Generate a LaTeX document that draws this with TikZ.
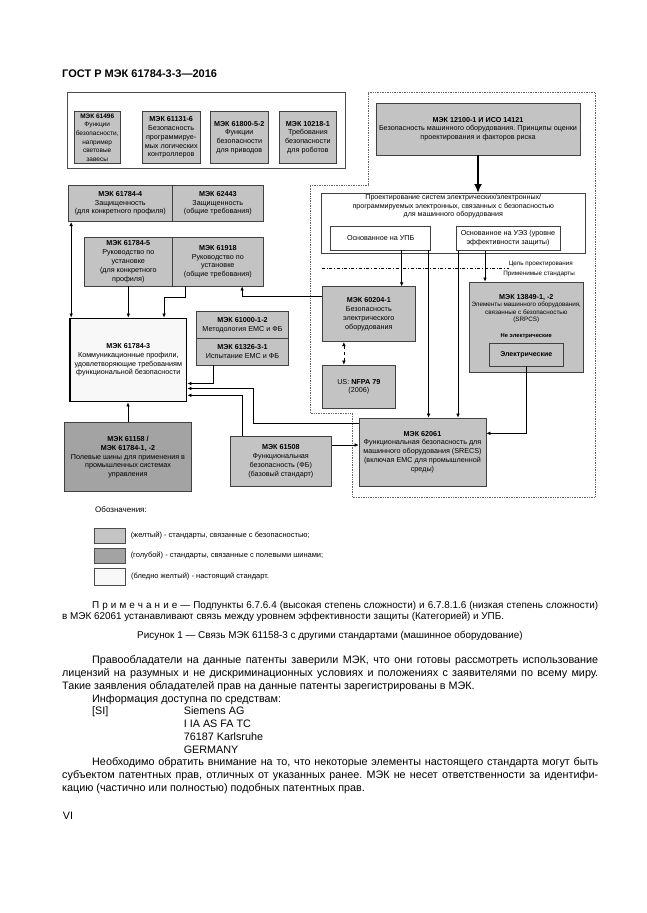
\documentclass[tikz,border=0pt]{standalone}
\usepackage{fontspec}
\setmainfont{Liberation Sans}
\usetikzlibrary{arrows.meta}
\frenchspacing

\definecolor{stdgray}{HTML}{C3C3C3}
\definecolor{busgray}{HTML}{A3A3A3}
\definecolor{palebox}{HTML}{F8F8F8}

\tikzset{
  box/.style={draw=black!75, line width=0.8pt, fill=stdgray, align=center, inner sep=0.5pt,
    font=\fontsize{7.2}{8.8}\selectfont},
  busbox/.style={box, fill=busgray},
  plainbox/.style={box, fill=white, line width=0.6pt},
  arr/.style={-{Latex[length=4pt,width=3.6pt]}, line width=0.6pt},
  bigarr/.style={-{Latex[length=9pt,width=8pt]}, line width=2.4pt},
  mach/.style={densely dotted, black!60, line width=0.7pt},
  small/.style={inner sep=0pt, align=center, font=\fontsize{6.3}{7.4}\selectfont},
  legtxt/.style={inner sep=0pt, anchor=west, font=\fontsize{7.5}{8.5}\selectfont},
}

\begin{document}
\begin{tikzpicture}[x=1pt,y=-1pt]
  \useasboundingbox[fill=white] (0,0) rectangle (646,913);

  \node[anchor=base west, inner sep=0pt, font=\bfseries\fontsize{11}{13}\selectfont] (head) at (62,77) {ГОСТ Р МЭК 61784-3-3—2016};

  % machinery area
  \draw[mach] (368,92) -- (595,92) -- (595,497) -- (352,497) -- (352,413) -- (310,413) -- (310,185) -- (368,185) -- cycle;

  % safety functions group
  \node[draw=black!70, line width=0.8pt, minimum width=278pt, minimum height=76pt] (grp) at (206,130) {};
  \node[box, minimum width=45.7pt, minimum height=51.6pt, font=\fontsize{6.5}{8.6}\selectfont] (b61496) at (97.2,137.5) {\textbf{МЭК 61496}\\Функции\\безопасности,\\например\\световые\\завесы};
  \node[box, minimum width=57.7pt, minimum height=51.6pt] (b61131) at (171.2,137.5) {\textbf{МЭК 61131-6}\\Безопасность\\программируе-\\мых логических\\контроллеров};
  \node[box, minimum width=58pt, minimum height=51.6pt] (b61800) at (239.3,137.5) {\textbf{МЭК 61800-5-2}\\Функции\\безопасности\\для приводов};
  \node[box, minimum width=57.7pt, minimum height=51.6pt] (b10218) at (307.9,137.5) {\textbf{МЭК 10218-1}\\Требования\\безопасности\\для роботов};

  % machinery
  \node[box, minimum width=204pt, minimum height=51.7pt] (b12100) at (478,129.2) {\textbf{МЭК 12100-1 И ИСО 14121}\\Безопасность машинного оборудования. Принципы оценки\\проектирования и факторов риска};
  \node[plainbox, minimum width=263.3pt, minimum height=60pt] (design) at (453.3,223.3) {};
  \node[inner sep=0pt, align=center, font=\fontsize{7.1}{8.6}\selectfont] (designtxt) at (453.3,206.5) {Проектирование систем электрических/электронных/\\программируемых электронных, связанных с безопасностью\\для машинного оборудования};
  \node[plainbox, minimum width=100pt, minimum height=24pt] (upb) at (380.7,238) {Основанное на УПБ};
  \node[plainbox, minimum width=104pt, minimum height=24.7pt] (uez) at (508,238.3) {Основанное на УЭЗ (уровне\\эффективности защиты)};
  \node[small, anchor=east, font=\fontsize{6.3}{7.4}\selectfont] (lblgoal) at (573,264.3) {Цель проектирования};
  \node[small, anchor=east, font=\fontsize{6.3}{7.4}\selectfont] (lblstd) at (575,273.5) {Применимые стандарты};
  \coordinate (sepl) at (321.7,268.5);
  \draw[dash dot, line width=0.9pt] (sepl) -- (sepl -| lblgoal.west);

  \node[box, minimum width=92.3pt, minimum height=55pt] (b60204) at (368.8,314.2) {\textbf{МЭК 60204-1}\\Безопасность\\электрического\\оборудования};
  \node[box, minimum width=72.3pt, minimum height=43.3pt] (nfpa) at (358.8,386.7) {US: \textbf{NFPA 79}\\(2006)};
  \node[box, minimum width=114pt, minimum height=90.7pt] (b13849) at (526.3,327.3) {};
  \node[small] (b13849txt) at (526.3,308.5) {{\bfseries\fontsize{7.2}{8.8}\selectfont МЭК 13849-1, -2}\\Элементы машинного оборудования,\\связанные с безопасностью\\(SRPCS)};
  \node[small, font=\bfseries\fontsize{5.8}{7}\selectfont] (nonel) at (526.3,336) {Не электрические};
  \node[box, minimum width=74pt, minimum height=22.7pt, font=\bfseries\fontsize{7}{8.6}\selectfont] (elec) at (526.3,354.7) {Электрические};
  \node[box, minimum width=127pt, minimum height=68pt] (b62061) at (422.5,452) {\textbf{МЭК 62061}\\Функциональная безопасность для\\машинного оборудования (SRECS)\\(включая EMC для промышленной\\среды)};

  % communication profiles
  \node[box, minimum width=104pt, minimum height=36.7pt] (b617844) at (120.3,203.3) {\textbf{МЭК 61784-4}\\Защищенность\\(для конкретного профиля)};
  \node[box, minimum width=91pt, minimum height=36.7pt] (b62443) at (217.8,203.3) {\textbf{МЭК 62443}\\Защищенность\\(общие требования)};
  \node[box, minimum width=88pt, minimum height=48.7pt] (b617845) at (128.3,261.7) {\textbf{МЭК 61784-5}\\Руководство по\\установке\\(для конкретного\\профиля)};
  \node[box, minimum width=91pt, minimum height=48.7pt] (b61918) at (217.8,261.7) {\textbf{МЭК 61918}\\Руководство по\\установке\\(общие требования)};
  \node[box, fill=palebox, draw=black, line width=1.6pt, minimum width=116.7pt, minimum height=83.3pt] (main) at (128.3,360) {\textbf{МЭК 61784-3}\\Коммуникационные профили,\\удовлетворяющие требованиям\\функциональной безопасности};
  \node[box, minimum width=91.7pt, minimum height=26.7pt] (b61000) at (242.5,325) {\textbf{МЭК 61000-1-2}\\Методология ЕМС и ФБ};
  \node[box, minimum width=91.7pt, minimum height=26.7pt] (b61326) at (242.5,351.7) {\textbf{МЭК 61326-3-1}\\Испытание ЕМС и ФБ};
  \node[busbox, minimum width=127.3pt, minimum height=69pt] (b61158) at (128,457.2) {\textbf{МЭК 61158 /}\\\textbf{МЭК 61784-1, -2}\\Полевые шины для применения в\\промышленных системах\\управления};
  \node[box, minimum width=101.7pt, minimum height=49.3pt] (b61508) at (280.8,461.3) {\textbf{МЭК 61508}\\Функциональная\\безопасность (ФБ)\\(базовый стандарт)};

  % connectors
  \draw[bigarr] (b12100.south) -- (b12100.south |- design.north);
  \draw[arr] ([xshift=21pt]upb.south) -- ([xshift=21pt]upb.south |- b60204.north);
  \draw[arr] ([xshift=-2.4pt]upb.south east) -- ([xshift=-2.4pt]upb.south east |- b62061.north);
  \draw[arr] ([xshift=2.3pt]uez.south west) -- ([xshift=2.3pt]uez.south west |- b62061.north);
  \draw[arr] ([xshift=-23pt]uez.south) -- ([xshift=-23pt]uez.south |- b13849.north);
  \draw[arr] (elec.south) |- ([yshift=18.7pt]b62061.east);
  \draw[arr, {Latex[length=4pt,width=3.6pt]}-{Latex[length=4pt,width=3.6pt]}, dashed] ([xshift=21.6pt]b60204.south west) -- ([xshift=21.6pt]b60204.south west |- nfpa.north);
  \draw[arr] ([yshift=17.7pt]b60204.west) -| ([xshift=70.2pt]b61918.south west);
  \draw[arr, {Latex[length=4pt,width=3.6pt]}-{Latex[length=4pt,width=3.6pt]}] ([xshift=2pt]main.north west) -- ([xshift=2pt]main.north west |- b617844.south);
  \draw[arr] (b617845.south) -- (b617845.south |- main.north);
  \draw[arr] ([xshift=13.4pt]b61918.south west) -- ++(0,10.7) -| ([xshift=-23.4pt]main.north east);
  \draw[arr] ([xshift=16.6pt]b61326.south west) |- ([yshift=-23.5pt]main.east);
  \draw[arr] ([yshift=28.7pt]b62061.west) -- ++(-105,0) |- ([yshift=-28.5pt]main.east);
  \draw[arr] ([xshift=13pt]b61508.north west) |- ([yshift=-35.3pt]main.east);
  \draw[arr] ([yshift=16.3pt]b61508.east) -- ([yshift=16.3pt]b61508.east -| b62061.west);
  \draw[arr] (b61158.north) -- (b61158.north |- main.south);

  % legend
  \node[legtxt, font=\fontsize{8}{9}\selectfont] (legtitle) at (95,510) {Обозначения:};
  \node[draw=black!70, line width=0.7pt, fill=stdgray, minimum width=31pt, minimum height=15pt] (swyel) at (109.7,535.8) {};
  \node[draw=black!70, line width=0.7pt, fill=busgray, minimum width=31pt, minimum height=15pt] (swblue) at (109.7,555.8) {};
  \node[draw=black!70, line width=0.7pt, fill=palebox, minimum width=31pt, minimum height=16.7pt] (swpale) at (110,576.7) {};
  \node[legtxt] (legyel) at ([xshift=5pt]swyel.east) {(желтый) - стандарты, связанные с безопасностью;};
  \node[legtxt] (legblue) at ([xshift=5pt]swblue.east) {(голубой) - стандарты, связанные с полевыми шинами;};
  \node[legtxt] (legpale) at ([xshift=5pt]swpale.east) {(бледно желтый) - настоящий стандарт.};

  % note and caption
  \node[anchor=north west, inner sep=0pt, text width=536pt, align=justify, font={\fontsize{9.9}{11.2}\selectfont\hyphenpenalty=10000\relax}] (note) at (62,601.3) {\hspace*{30pt}П р и м е ч а н и е — Подпункты 6.7.6.4 (высокая степень сложности) и 6.7.8.1.6 (низкая степень сложности)\linebreak в МЭК 62061 устанавливают связь между уровнем эффективности защиты (Категорией) и УПБ.};
  \node[anchor=base, inner sep=0pt, font=\fontsize{9.9}{11.2}\selectfont] (caption) at (330,638.5) {Рисунок 1 — Связь МЭК 61158-3 с другими стандартами (машинное оборудование)};

  % body text
  \node[anchor=north west, inner sep=0pt, text width=536pt, align=justify, font={\fontsize{10.8}{12.73}\selectfont\hyphenpenalty=10000\relax}] (body) at (62,655.8) {\hspace*{30pt}Правообладатели на данные патенты заверили МЭК, что они готовы рассмотреть использование\linebreak лицензий на разумных и не дискриминационных условиях и положениях с заявителями по всему миру.\linebreak Такие заявления обладателей прав на данные патенты зарегистрированы в МЭК.\\
  \hspace*{30pt}Информация доступна по средствам:\\
  \hspace*{30pt}\makebox[91.6pt][l]{[SI]}Siemens AG\\
  \hspace*{121.6pt}I IA AS FA TC\\
  \hspace*{121.6pt}76187 Karlsruhe\\
  \hspace*{121.6pt}GERMANY\\
  \hspace*{30pt}Необходимо обратить внимание на то, что некоторые элементы настоящего стандарта могут быть\linebreak субъектом патентных прав, отличных от указанных ранее. МЭК не несет ответственности за идентифи-\linebreak кацию (частично или полностью) подобных патентных прав.};
  \node[anchor=base west, inner sep=0pt, font=\fontsize{10.8}{12.73}\selectfont] (pageno) at (62.7,819.5) {VI};
\end{tikzpicture}
\end{document}
